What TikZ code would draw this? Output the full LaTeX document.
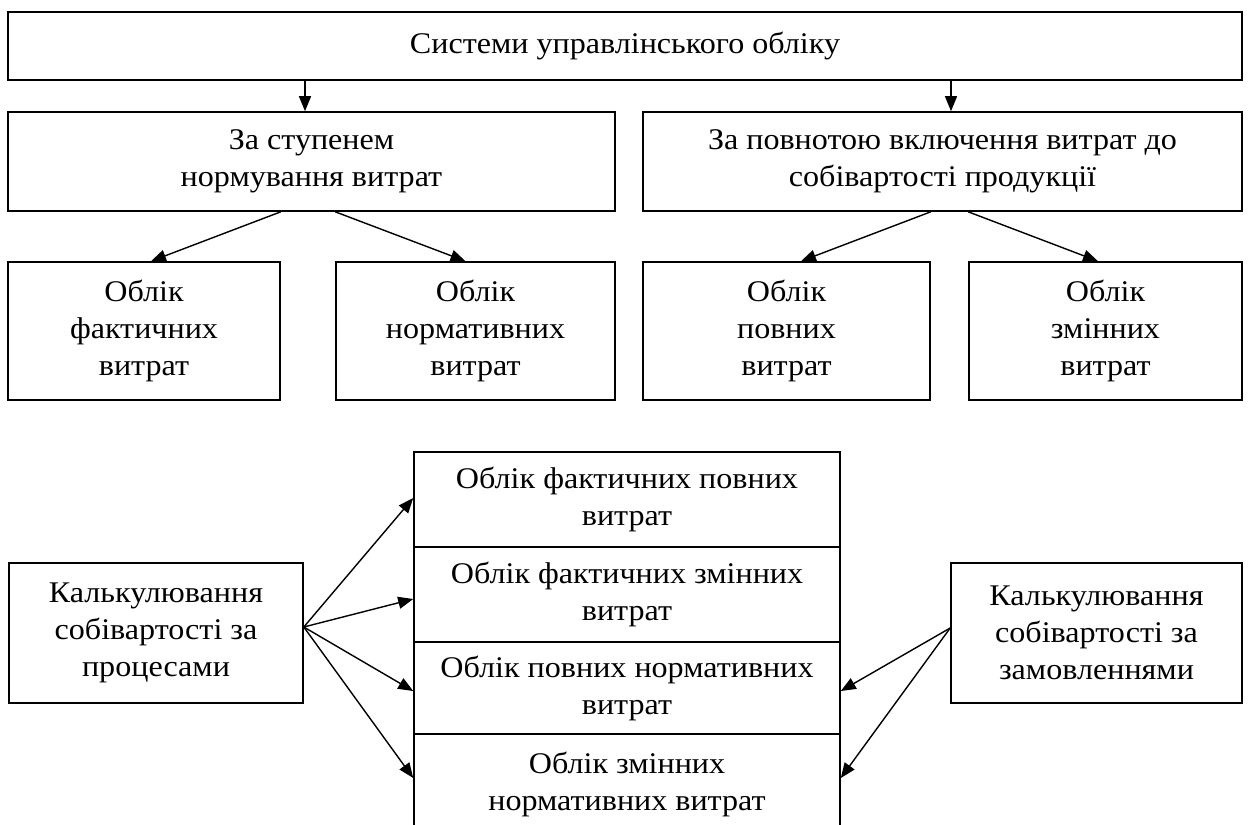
\documentclass[tikz,border=0pt]{standalone}
\usepackage{fontspec}
\setmainfont{Liberation Serif}[FakeStretch=1.07]
\usetikzlibrary{arrows.meta}
\begin{document}
\begin{tikzpicture}[x=1pt,y=-1pt,
  box/.style={draw, line width=1.6pt, align=center, inner sep=0pt, font=\fontsize{30}{37}\selectfont},
  arr/.style={line width=1.4pt, -{Triangle[length=15pt,width=12pt]}}]
\useasboundingbox (0,0) rectangle (1252,824);
\clip (0,0) rectangle (1252,824);
\fill[white] (0,0) rectangle (1252,824);
% top
\node[box, minimum width=1234pt, minimum height=68pt] (top) at (625,46) {Системи управлінського обліку};
\node[box, minimum width=607pt, minimum height=99pt] (A) at (311.5,161.5) {За ступенем\\нормування витрат};
\node[box, minimum width=599pt, minimum height=99pt] (B) at (942.5,161.5) {За повнотою включення витрат до\\собівартості продукції};
\node[box, minimum width=272pt, minimum height=138pt] (r1) at (144,331) {Облік\\фактичних\\витрат};
\node[box, minimum width=279pt, minimum height=138pt] (r2) at (475.5,331) {Облік\\нормативних\\витрат};
\node[box, minimum width=287pt, minimum height=138pt] (r3) at (786.5,331) {Облік\\повних\\витрат};
\node[box, minimum width=273pt, minimum height=138pt] (r4) at (1105.5,331) {Облік\\змінних\\витрат};
% stack
\node[box, minimum width=426pt, minimum height=95pt] (c1) at (627,499.5) {Облік фактичних повних\\витрат};
\node[box, minimum width=426pt, minimum height=95pt] (c2) at (627,594.5) {Облік фактичних змінних\\витрат};
\node[box, minimum width=426pt, minimum height=92pt] (c3) at (627,688) {Облік повних нормативних\\витрат};
\node[box, minimum width=426pt, minimum height=100pt] (c4) at (627,784) {Облік змінних\\нормативних витрат};
\node[box, minimum width=294pt, minimum height=140pt] (L) at (156,633) {Калькулювання\\собівартості за\\процесами};
\node[box, minimum width=291pt, minimum height=140pt] (R) at (1096.5,633) {Калькулювання\\собівартості за\\замовленнями};
% connectors
\coordinate (a1) at ([xshift=-6.5pt]A.north);
\coordinate (b1) at ([xshift=8.5pt]B.north);
\draw[arr] (top.south -| a1) -- (a1);
\draw[arr] (top.south -| b1) -- (b1);
\draw[arr] (A.south -| r1.east) -- ([xshift=7pt]r1.north);
\draw[arr] (A.south -| r2.west) -- ([xshift=-10pt]r2.north);
\draw[arr] (B.south -| r3.east) -- ([xshift=14.5pt]r3.north);
\draw[arr] (B.south -| r4.west) -- ([xshift=-7.5pt]r4.north);
\coordinate (lo) at ([yshift=6pt]L.east);
\coordinate (ro) at ([yshift=5pt]R.west);
\draw[arr] (lo) -- ([yshift=1.5pt]c1.west);
\draw[arr] (lo) -- ([yshift=-4.5pt]c2.west);
\draw[arr] (lo) -- ([yshift=-3pt]c3.west);
\draw[arr] (lo) -- ([yshift=6pt]c4.west);
\draw[arr] (ro) -- ([yshift=-3pt]c3.east);
\draw[arr] (ro) -- ([yshift=6pt]c4.east);
\end{tikzpicture}
\end{document}
